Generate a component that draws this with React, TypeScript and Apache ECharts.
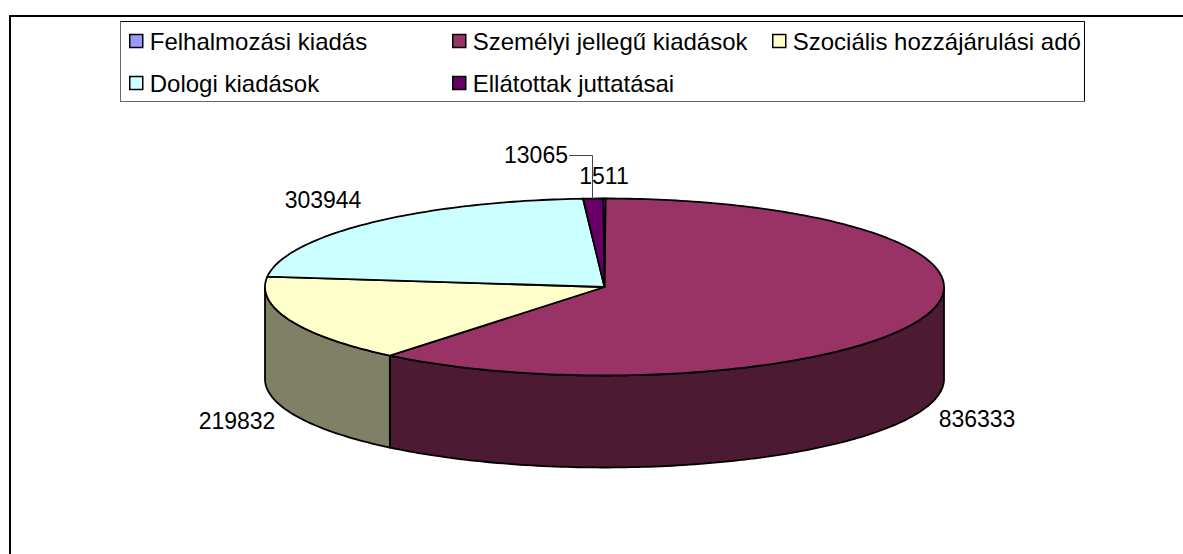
import React, { useEffect, useRef } from "react";
import * as echarts from "echarts";

const categories = ["Felhalmozási kiadás", "Személyi jellegű kiadások", "Szociális hozzájárulási adó", "Dologi kiadások", "Ellátottak juttatásai"];
const values = [1511, 836333, 219832, 303944, 13065];
const topColors = ["#9999FF", "#993366", "#FFFFCC", "#CCFFFF", "#660066"];
const sideColors = ["#4D4D80", "#4D1A33", "#808066", "#668080", "#330033"];
const labelPositions = [[604, 176], [977, 419], [237, 421], [323, 200], [536, 155]];
const legendPositions = [[129, 29], [452, 29], [772, 29], [129, 71], [452, 71]];

const CX = 604.5, CY = 287, RX = 339.5, RY = 88.5, DEPTH = 92, START = -0.2;
const FONT = "'Liberation Sans', Arial, sans-serif";
const total = values.reduce((a, b) => a + b, 0);

function pt(deg: number, dy = 0): number[] {
  const r = (deg * Math.PI) / 180;
  return [CX + RX * Math.sin(r), CY - RY * Math.cos(r) + dy];
}
function arc(a: number, b: number, dy = 0): number[][] {
  const out: number[][] = [];
  const n = Math.max(2, Math.ceil(Math.abs(b - a)));
  for (let i = 0; i <= n; i++) out.push(pt(a + ((b - a) * i) / n, dy));
  return out;
}

export default function App() {
  const ref = useRef<HTMLDivElement>(null);
  useEffect(() => {
    document.body.style.margin = "0";
    const chart = echarts.init(ref.current!, null, { renderer: "svg" });
    let cum = START;
    const series = values.map((v, i) => {
      const start = cum;
      cum += (v / total) * 360;
      return {
        type: "custom",
        name: categories[i],
        coordinateSystem: "none",
        data: [[v]],
        z: 2 + i,
        itemStyle: { color: topColors[i] },
        renderItem: (_p: any, api: any) => {
          const val = api.value(0) as number;
          const end = start + (val / total) * 360;
          const children: any[] = [];
          const fs = Math.max(start, 90), fe = Math.min(end, 270);
          if (fe > fs) {
            children.push({
              type: "polygon",
              shape: { points: [...arc(fs, fe), ...arc(fe, fs, DEPTH)] },
              style: { fill: sideColors[i], stroke: "#000", lineWidth: 1.8 },
            });
          }
          children.push({
            type: "polygon",
            shape: { points: [[CX, CY], ...arc(start, end)] },
            style: { fill: topColors[i], stroke: "#000", lineWidth: 1.8, lineJoin: "round" },
          });
          return { type: "group", children };
        },
      };
    });
    const labels = values.map((v, i) => ({
      type: "text",
      x: labelPositions[i][0],
      y: labelPositions[i][1],
      z: 30,
      style: { text: String(v), fontFamily: FONT, fontSize: 23, fill: "#000", align: "center", verticalAlign: "middle" },
    }));
    chart.setOption({
      animation: false,
      backgroundColor: "#fff",
      legend: categories.map((c, i) => ({
        left: legendPositions[i][0],
        top: legendPositions[i][1],
        padding: 0,
        itemWidth: 13,
        itemHeight: 13,
        selectedMode: false,
        data: [{ name: c, icon: "rect", itemStyle: { color: topColors[i], borderColor: "#000", borderWidth: 1.5 } }],
        textStyle: { fontFamily: FONT, fontSize: 24, color: "#000", padding: [0, 0, 0, 2] },
      })),
      series,
      graphic: [
        { type: "polyline", z: 1, shape: { points: [[10, 554], [10, 16], [1183, 16]] }, style: { fill: "none", stroke: "#000", lineWidth: 2 } },
        { type: "rect", z: 1, shape: { x: 120.5, y: 21.5, width: 964, height: 80 }, style: { fill: "#fff", stroke: "#000", lineWidth: 1 } },
        { type: "polyline", z: 1, shape: { points: [[120.5, 21.5], [120.5, 101.5], [1084.5, 101.5]] }, style: { fill: "none", stroke: "#666", lineWidth: 1 } },
        { type: "polyline", z: 25, shape: { points: [[569, 155.5], [592.5, 155.5], [592.5, 199]] }, style: { fill: "none", stroke: "#444", lineWidth: 1 } },
        ...labels,
      ],
    });
    return () => chart.dispose();
  }, []);
  return <div ref={ref} style={{ width: 1183, height: 554 }} />;
}
